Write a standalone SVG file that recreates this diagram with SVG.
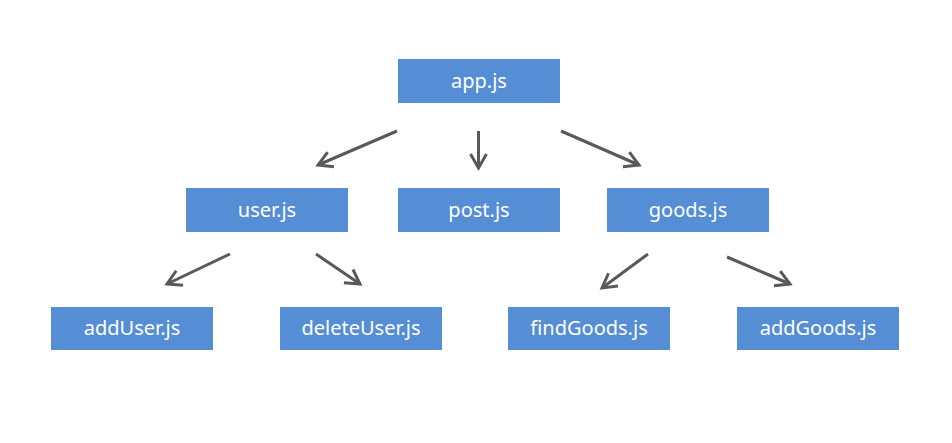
<svg xmlns="http://www.w3.org/2000/svg" width="952" height="443" viewBox="0 0 952 443">
<style>
.box{fill:#558ed5}
.lbl{fill:#ffffff;font-family:"Noto Sans","Open Sans","DejaVu Sans",sans-serif;font-size:20px;text-anchor:middle;dominant-baseline:central}
.edge{stroke:#595959;stroke-width:3;fill:none;marker-end:url(#arr)}
</style>
<defs>
<marker id="arr" markerUnits="userSpaceOnUse" markerWidth="30" markerHeight="30" refX="0" refY="0" viewBox="-20 -15 30 30" orient="auto" overflow="visible">
<path d="M-14,-8 L0,0 L-14,8" fill="none" stroke="#595959" stroke-width="3" stroke-linejoin="miter"/>
</marker>
</defs>
<rect width="952" height="443" fill="#ffffff"/>
<g id="connectors">
<line class="edge" x1="397" y1="131" x2="318" y2="165"/>
<line class="edge" x1="478.5" y1="131" x2="478.5" y2="168"/>
<line class="edge" x1="561" y1="131" x2="639" y2="165"/>
<line class="edge" x1="230" y1="254" x2="167" y2="284"/>
<line class="edge" x1="316" y1="254" x2="360" y2="284"/>
<line class="edge" x1="648" y1="254" x2="602" y2="288"/>
<line class="edge" x1="727" y1="257" x2="790" y2="284"/>
</g>
<g id="app"><rect class="box" x="398" y="59" width="162" height="44"/><text class="lbl" x="479" y="80">app.js</text></g>
<g id="user"><rect class="box" x="186" y="188" width="162" height="44"/><text class="lbl" x="267" y="209">user.js</text></g>
<g id="post"><rect class="box" x="398" y="188" width="162" height="44"/><text class="lbl" x="479" y="209">post.js</text></g>
<g id="goods"><rect class="box" x="607" y="188" width="162" height="44"/><text class="lbl" x="688" y="209">goods.js</text></g>
<g id="addUser"><rect class="box" x="51" y="307" width="162" height="43"/><text class="lbl" x="132" y="327.5">addUser.js</text></g>
<g id="deleteUser"><rect class="box" x="280" y="307" width="162" height="43"/><text class="lbl" x="361" y="327.5">deleteUser.js</text></g>
<g id="findGoods"><rect class="box" x="508" y="307" width="162" height="43"/><text class="lbl" x="589" y="327.5">findGoods.js</text></g>
<g id="addGoods"><rect class="box" x="737" y="307" width="162" height="43"/><text class="lbl" x="818" y="327.5">addGoods.js</text></g>
</svg>
